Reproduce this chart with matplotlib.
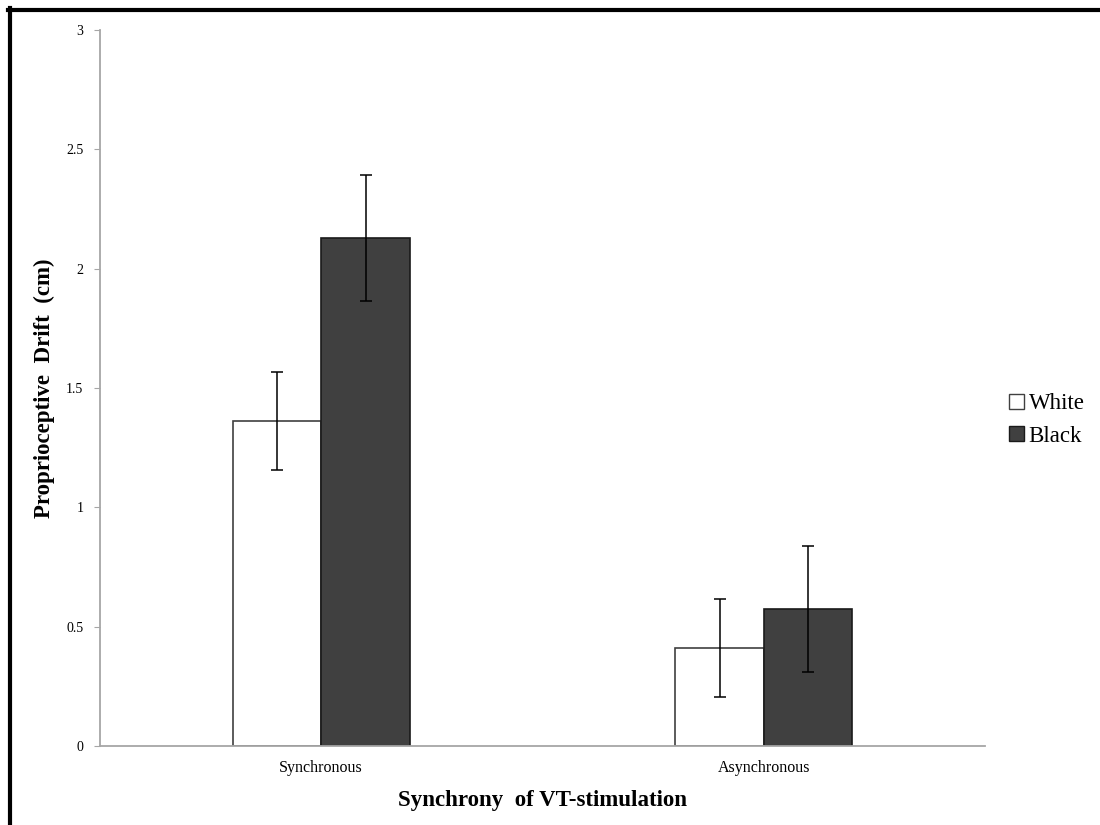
import matplotlib
matplotlib.use("Agg")
import matplotlib.pyplot as plt
import numpy as np
from matplotlib.lines import Line2D
from matplotlib.patches import Patch

plt.rcParams['font.family'] = ['Liberation Serif', 'DejaVu Serif']

conditions = ["Synchronous", "Asynchronous"]
groups = ["White", "Black"]
means = {"White": [1.36, 0.41], "Black": [2.13, 0.575]}
errors = {"White": [0.205, 0.205], "Black": [0.264, 0.264]}

fig = plt.figure(figsize=(11, 8.25), dpi=100)
ax = fig.add_axes([100 / 1100, 1 - 746 / 825, 885 / 1100, 716 / 825])

x = np.arange(len(conditions))
w = 0.2
face = {"White": "white", "Black": "#404040"}
edge = {"White": "#404040", "Black": "#1a1a1a"}

for i, g in enumerate(groups):
    xs = x + (i - 0.5) * w
    ax.bar(xs, means[g], width=w, color=face[g], edgecolor=edge[g], linewidth=1.2, label=g, zorder=2)
    ax.errorbar(xs, means[g], yerr=errors[g], fmt='none', ecolor='black',
                elinewidth=1.1, capsize=4, capthick=1.1, zorder=3)

ax.set_xlim(-0.5, 1.5)
ax.set_ylim(0, 3)
ax.set_yticks([0, 0.5, 1, 1.5, 2, 2.5, 3])
ax.set_yticklabels(["0", "0.5", "1", "1.5", "2", "2.5", "3"], fontsize=10)
ax.set_xticks(x)
ax.set_xticklabels(conditions, fontsize=11.5)
ax.tick_params(axis='x', length=0, pad=10)
ax.tick_params(axis='y', length=4, color='#a6a6a6', pad=8)

for s in ['top', 'right']:
    ax.spines[s].set_visible(False)
for s in ['left', 'bottom']:
    ax.spines[s].set_color('#a6a6a6')
    ax.spines[s].set_linewidth(1.3)

ax.set_xlabel("Synchrony  of VT-stimulation", fontsize=16.5, fontweight='bold')
ax.xaxis.set_label_coords(0.5, -0.061)
ax.set_ylabel("Proprioceptive  Drift  (cm)", fontsize=16.5, fontweight='bold')
ax.yaxis.set_label_coords(-0.051, 0.5)

handles = [Patch(facecolor=face[g], edgecolor=edge[g], linewidth=1.0) for g in groups]
fig.legend(handles, groups, loc='center left', bbox_to_anchor=(1000 / 1100, 1 - 420 / 825),
           frameon=False, fontsize=16.5, handlelength=0.65, handleheight=0.65,
           handletextpad=0.2, labelspacing=0.5, borderaxespad=0)

# thick frame on top and left of the picture
fig.add_artist(Line2D([10 / 1100, 10 / 1100], [0, 1 - 8 / 825], color='black', linewidth=3,
                      transform=fig.transFigure))
fig.add_artist(Line2D([8 / 1100, 1], [1 - 10 / 825, 1 - 10 / 825], color='black', linewidth=3,
                      transform=fig.transFigure))

fig.savefig("out.png", dpi=100)
